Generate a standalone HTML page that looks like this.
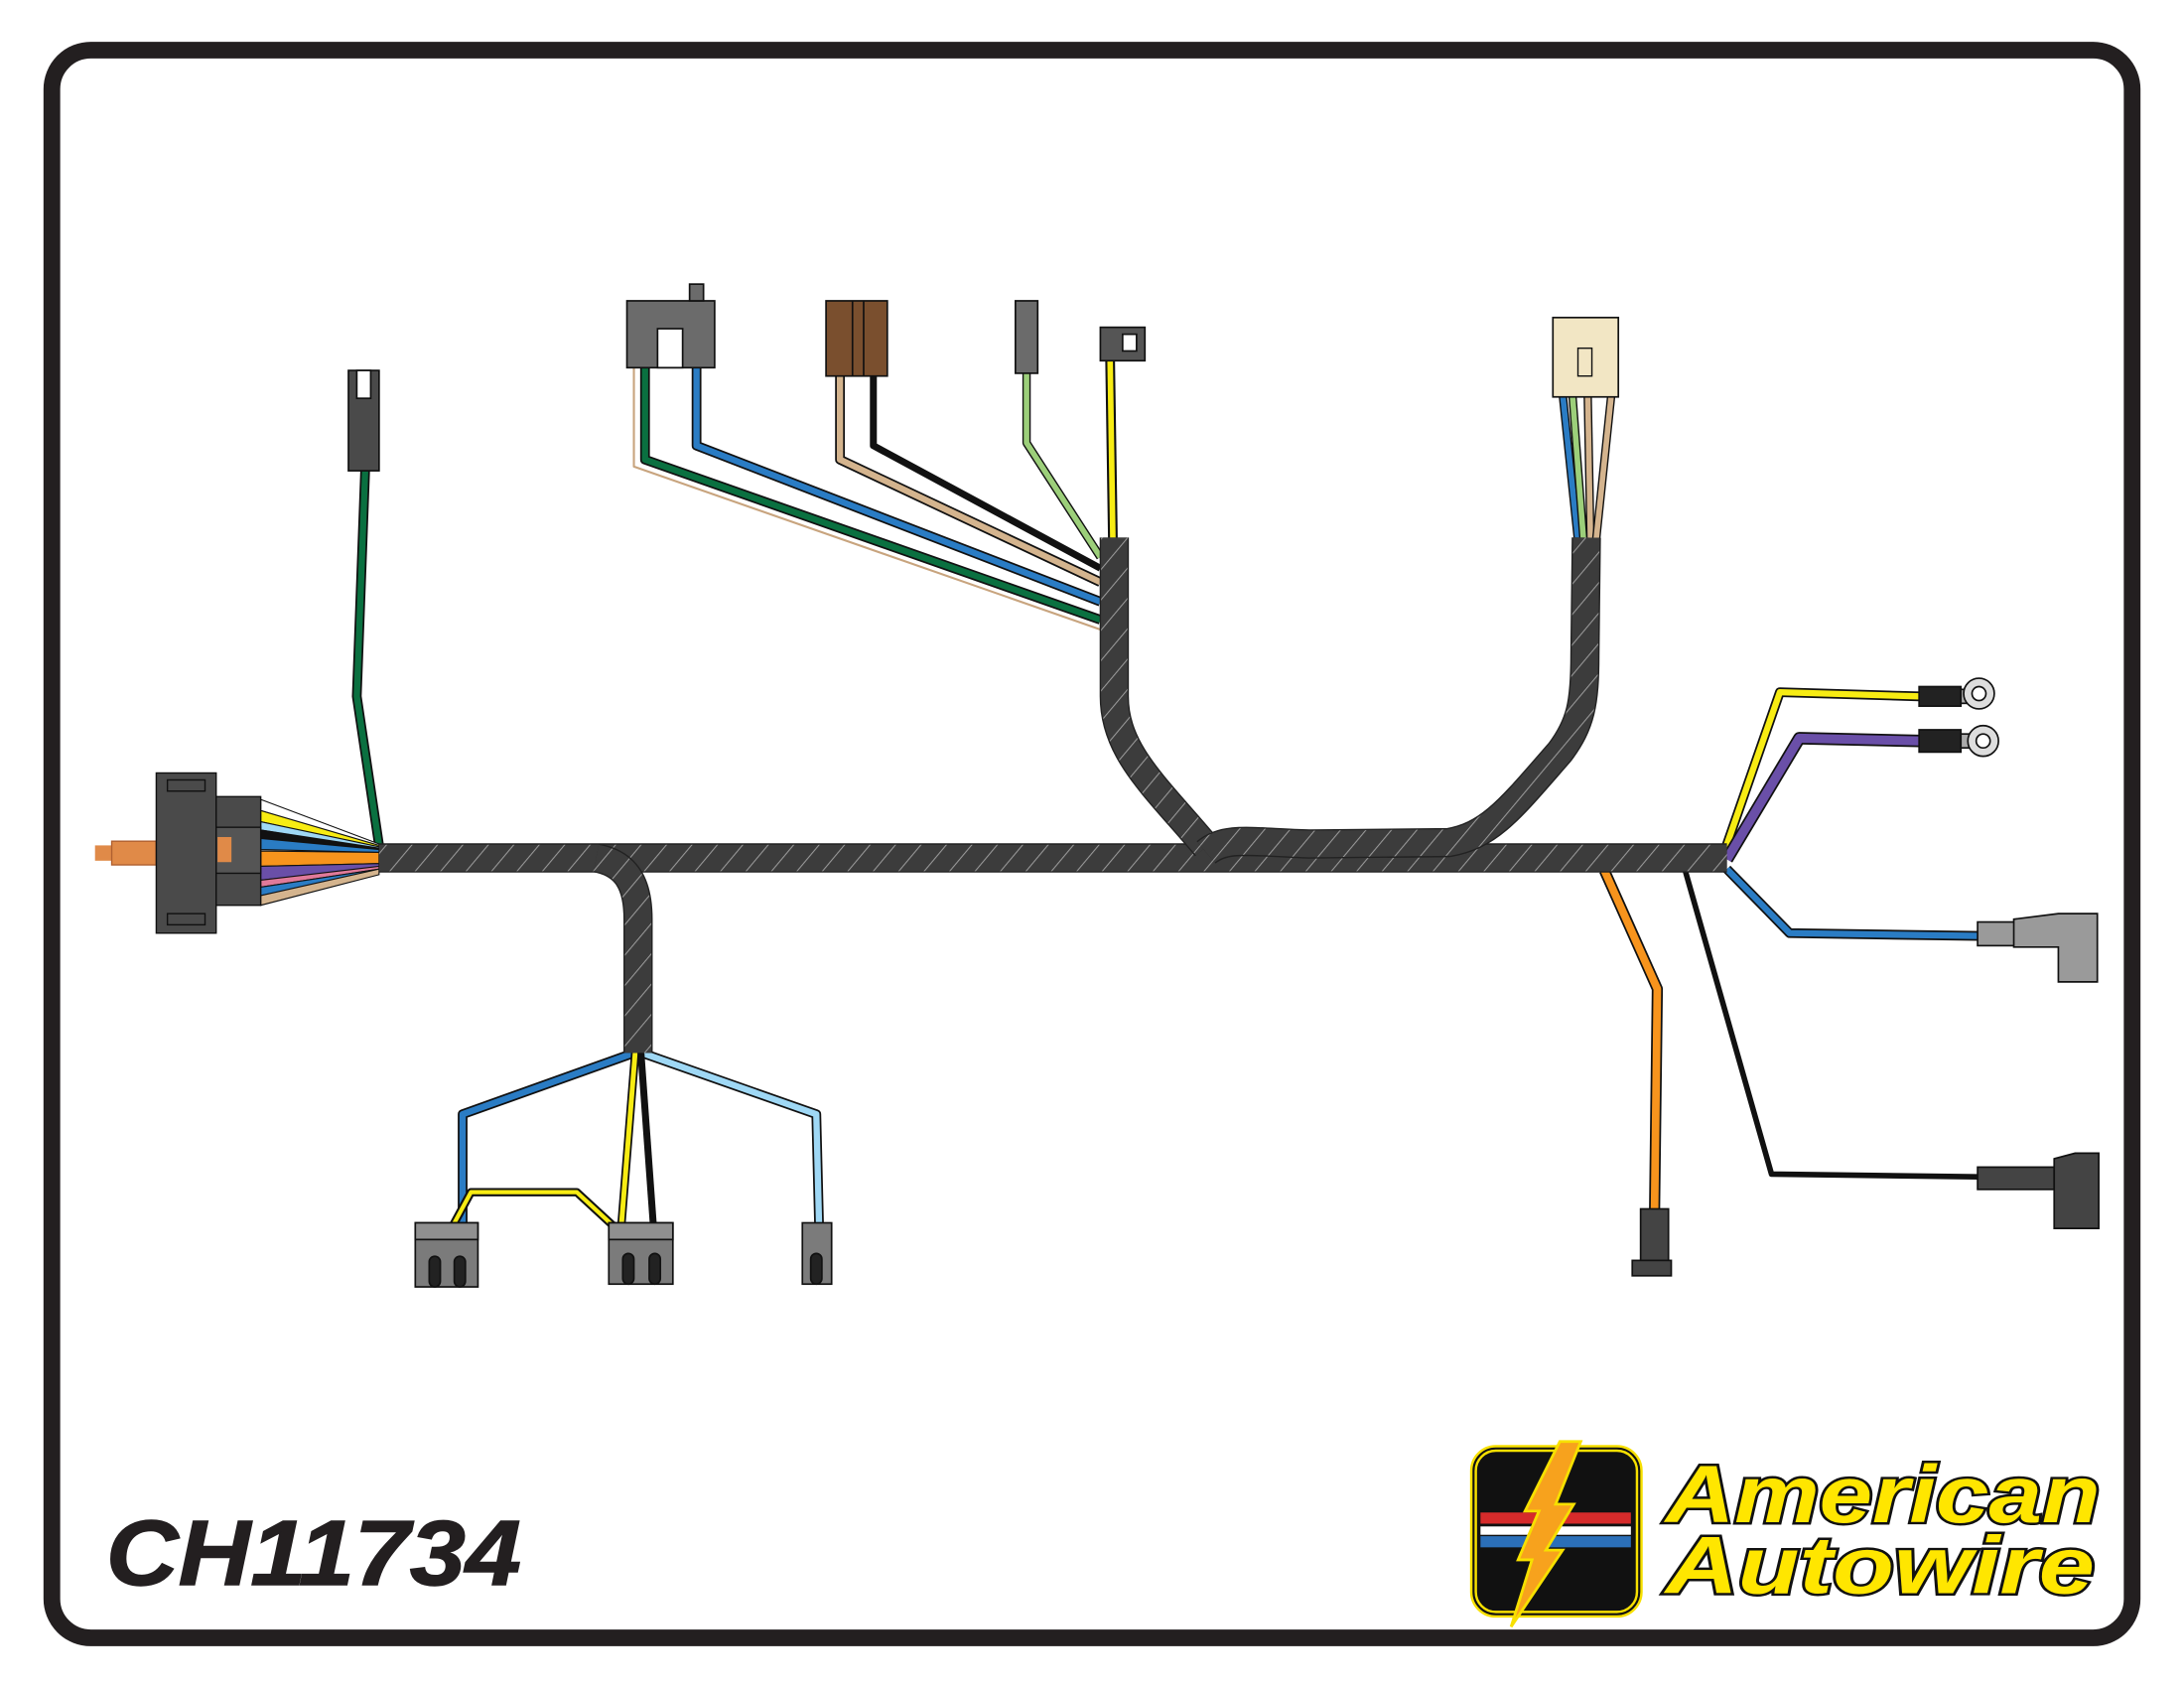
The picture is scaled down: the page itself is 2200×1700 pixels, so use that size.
<!DOCTYPE html>
<html><head><meta charset="utf-8"><style>html,body{margin:0;padding:0;background:#fff}svg{display:block}</style></head>
<body>
<svg width="2200" height="1700" viewBox="0 0 1568 1212" xmlns="http://www.w3.org/2000/svg">
<defs>
<pattern id="hatch" width="14" height="14" patternUnits="userSpaceOnUse" patternTransform="rotate(40)">
<rect width="14" height="14" fill="#3c3c3c"/><line x1="0" y1="0" x2="0" y2="14" stroke="#9a9a9a" stroke-width="1.5"/>
</pattern>
</defs>
<rect x="0" y="0" width="1568" height="1212" fill="#fff"/>
<rect x="37" y="36" width="1494" height="1140" rx="28" fill="none" stroke="#231f20" stroke-width="12"/>

<g fill="none" stroke-linejoin="round">
<polyline points="455,262 455,335 790,452" stroke="#c8a47e" stroke-width="1.5"/>
<polyline points="463,262 463,330 790,445" stroke="#111" stroke-width="7"/>
<polyline points="463,262 463,330 790,445" stroke="#0a7040" stroke-width="4.5"/>
<polyline points="500,262 500,320 790,432" stroke="#111" stroke-width="7"/>
<polyline points="500,262 500,320 790,432" stroke="#2a7cc4" stroke-width="4.5"/>
<polyline points="603,268 603,330 790,418" stroke="#111" stroke-width="7"/>
<polyline points="603,268 603,330 790,418" stroke="#d4b48e" stroke-width="4.5"/>
<polyline points="627,268 627,320 790,408" stroke="#111" stroke-width="5"/>
<polyline points="737,265 737,318 790,400" stroke="#111" stroke-width="6"/>
<polyline points="737,265 737,318 790,400" stroke="#9ccf7a" stroke-width="4"/>
<polyline points="797,258 799,388" stroke="#111" stroke-width="7"/>
<polyline points="797,258 799,388" stroke="#f7ec13" stroke-width="4"/>
<polyline points="1122,283 1133,388" stroke="#111" stroke-width="6"/><polyline points="1122,283 1133,388" stroke="#2a7cc4" stroke-width="4"/>
<polyline points="1129,283 1137,388" stroke="#111" stroke-width="6"/><polyline points="1129,283 1137,388" stroke="#9ccf7a" stroke-width="4"/>
<polyline points="1140,283 1142,388" stroke="#111" stroke-width="6"/><polyline points="1140,283 1142,388" stroke="#d4b48e" stroke-width="4"/>
<polyline points="1157,283 1146,388" stroke="#111" stroke-width="6"/><polyline points="1157,283 1146,388" stroke="#d4b48e" stroke-width="4"/>
<polyline points="262,338 256,500 272,607" stroke="#111" stroke-width="7"/>
<polyline points="262,338 256,500 272,607" stroke="#0a7040" stroke-width="4.5"/>
<polyline points="1238,612 1278,497 1378,500" stroke="#111" stroke-width="7"/>
<polyline points="1238,612 1278,497 1378,500" stroke="#f7ec13" stroke-width="4.5"/>
<polyline points="1240,617 1292,530 1378,532" stroke="#111" stroke-width="9"/>
<polyline points="1240,617 1292,530 1378,532" stroke="#6a4fa8" stroke-width="6.5"/>
<polyline points="1240,624 1285,670 1420,672" stroke="#111" stroke-width="7"/>
<polyline points="1240,624 1285,670 1420,672" stroke="#2a7cc4" stroke-width="4.5"/>
<polyline points="1152,625 1190,710 1188,870" stroke="#111" stroke-width="8"/>
<polyline points="1152,625 1190,710 1188,870" stroke="#f7941d" stroke-width="5.5"/>
<polyline points="1210,625 1272,843 1420,845" stroke="#111" stroke-width="4"/>
<polyline points="458,755 332,800 332,880" stroke="#111" stroke-width="7"/>
<polyline points="458,755 332,800 332,880" stroke="#2a7cc4" stroke-width="4.5"/>
<polyline points="458,755 586,800 588,880" stroke="#111" stroke-width="7"/>
<polyline points="458,755 586,800 588,880" stroke="#9fd8f5" stroke-width="4.5"/>
<polyline points="456,755 446,880" stroke="#111" stroke-width="6"/><polyline points="456,755 446,880" stroke="#f7ec13" stroke-width="3.5"/>
<polyline points="460,755 469,880" stroke="#111" stroke-width="5"/>
<polyline points="325,880 338,856 414,856 440,880" stroke="#111" stroke-width="6"/><polyline points="325,880 338,856 414,856 440,880" stroke="#f7ec13" stroke-width="3"/>
</g>

<g stroke="#111" stroke-width="0.8">
<polygon points="187,574 272,606 272,609 187,582" fill="#fff"/>
<polygon points="187,582 272,607 272,609 187,590" fill="#f7ec13"/>
<polygon points="187,590 272,608 272,610 187,596" fill="#9fd8f5"/>
<polygon points="187,596 272,609 272,611 187,602" fill="#111"/>
<polygon points="187,602 272,610 272,612 187,610" fill="#2a7cc4"/>
<polygon points="187,611 272,612 272,620 187,622" fill="#f7941d"/>
<polygon points="187,622 272,620 272,623 187,632" fill="#6a4fa8"/>
<polygon points="187,632 272,622 272,624 187,637" fill="#e07a9a"/>
<polygon points="187,637 272,624 272,626 187,643" fill="#2a7cc4"/>
<polygon points="187,643 272,624 272,628 187,650" fill="#d4b48e"/>
</g>

<g fill="none" stroke-linecap="butt" stroke-linejoin="round">
<path d="M272 616 L1240 616" stroke="#222" stroke-width="21"/>
<path d="M272 616 L1240 616" stroke="url(#hatch)" stroke-width="19"/>
<path d="M866 608 C830 565 800 540 800 500 L800 386" stroke="#222" stroke-width="21"/>
<path d="M866 608 C830 565 800 540 800 500 L800 386" stroke="url(#hatch)" stroke-width="19"/>
<path d="M866 612 C880 600 900 605 940 606 L1040 605 C1070 600 1085 580 1120 540 C1135 520 1138 505 1138 470 L1139 386" stroke="#222" stroke-width="21"/>
<path d="M866 612 C880 600 900 605 940 606 L1040 605 C1070 600 1085 580 1120 540 C1135 520 1138 505 1138 470 L1139 386" stroke="url(#hatch)" stroke-width="19"/>
<path d="M428 616 C450 620 458 635 458 660 L458 756" stroke="#222" stroke-width="21"/>
<path d="M428 616 C450 620 458 635 458 660 L458 756" stroke="url(#hatch)" stroke-width="19"/>
</g>

<g stroke="#111" stroke-width="1" fill="#4a4a4a">
<rect x="68" y="607" width="12" height="11" fill="#e08a48" stroke="none"/>
<rect x="80" y="604" width="32" height="17" fill="#e08a48" stroke="#b06030"/>
<rect x="112" y="555" width="43" height="115"/>
<rect x="120" y="560" width="27" height="8" fill="none"/>
<rect x="120" y="656" width="27" height="8" fill="none"/>
<rect x="155" y="572" width="32" height="78"/>
<rect x="155" y="594" width="32" height="33" fill="#555"/>
<rect x="156" y="601" width="10" height="18" fill="#e08a48" stroke="none"/>
</g>

<g stroke="#111" stroke-width="1.2">
<rect x="450" y="216" width="63" height="48" fill="#6b6b6b"/>
<rect x="472" y="236" width="18" height="28" fill="#fff"/>
<rect x="495" y="204" width="10" height="12" fill="#6b6b6b"/>
<rect x="593" y="216" width="44" height="54" fill="#7a4f2e"/>
<line x1="612" y1="216" x2="612" y2="270"/><line x1="620" y1="216" x2="620" y2="270"/>
<rect x="729" y="216" width="16" height="52" fill="#6b6b6b"/>
<rect x="790" y="235" width="32" height="24" fill="#555"/>
<rect x="806" y="240" width="10" height="12" fill="#fff"/>
<rect x="1115" y="228" width="47" height="57" fill="#f2e6c4"/>
<rect x="1133" y="250" width="10" height="20" fill="none" stroke-width="1"/>
<rect x="250" y="266" width="22" height="72" fill="#4a4a4a"/>
<rect x="256" y="266" width="10" height="20" fill="#fff"/>
</g>

<g stroke="#111" stroke-width="1.2">
<rect x="1378" y="493" width="30" height="14" fill="#222"/>
<rect x="1408" y="495" width="6" height="10" fill="#aaa"/>
<circle cx="1421" cy="498" r="11" fill="#ddd"/><circle cx="1421" cy="498" r="5" fill="#fff"/>
<rect x="1378" y="524" width="30" height="16" fill="#222"/>
<rect x="1408" y="527" width="6" height="10" fill="#aaa"/>
<circle cx="1424" cy="532" r="11" fill="#ddd"/><circle cx="1424" cy="532" r="5" fill="#fff"/>
<rect x="1420" y="662" width="30" height="17" fill="#9a9a9a"/>
<path d="M1446 660 L1478 656 L1506 656 L1506 705 L1478 705 L1478 680 L1446 680 Z" fill="#9a9a9a"/>
<rect x="1420" y="838" width="55" height="16" fill="#444"/>
<path d="M1475 832 L1490 828 L1507 828 L1507 882 L1475 882 Z" fill="#444"/>
<rect x="1178" y="868" width="20" height="38" fill="#444"/>
<rect x="1172" y="905" width="28" height="11" fill="#444"/>
</g>

<g stroke="#111" stroke-width="1.2">
<rect x="298" y="878" width="45" height="46" fill="#7b7b7b"/>
<rect x="298" y="878" width="45" height="12" fill="#909090"/>
<rect x="308" y="902" width="8" height="22" rx="4" fill="#222"/>
<rect x="326" y="902" width="8" height="22" rx="4" fill="#222"/>
<rect x="437" y="878" width="46" height="44" fill="#7b7b7b"/>
<rect x="437" y="878" width="46" height="12" fill="#909090"/>
<rect x="447" y="900" width="8" height="22" rx="4" fill="#222"/>
<rect x="466" y="900" width="8" height="22" rx="4" fill="#222"/>
<rect x="576" y="878" width="21" height="44" fill="#7b7b7b"/>
<rect x="582" y="900" width="8" height="22" rx="4" fill="#222"/>
</g>

<text x="76" y="1138" font-family="Liberation Sans, sans-serif" font-weight="bold" font-style="italic" font-size="66" fill="#231f20" stroke="#231f20" stroke-width="1" textLength="298" lengthAdjust="spacingAndGlyphs">CH11734</text>

<rect x="1058" y="1040" width="119" height="119" rx="16" fill="#111" stroke="#f7e000" stroke-width="5"/>
<rect x="1058" y="1040" width="119" height="119" rx="16" fill="none" stroke="#111" stroke-width="1.5"/>
<rect x="1063" y="1086" width="108" height="8" fill="#d62b2b"/>
<rect x="1063" y="1096" width="108" height="6" fill="#fff"/>
<rect x="1063" y="1103" width="108" height="8" fill="#2b6fb8"/>
<polygon points="1120,1035 1135,1035 1117,1080 1130,1080 1110,1113 1122,1113 1085,1168 1100,1120 1090,1120 1105,1085 1095,1085" fill="#f7a21d" stroke="#f7e000" stroke-width="2"/>
<g font-family="Liberation Sans, sans-serif" font-weight="bold" font-style="italic" fill="#ffe600" stroke="#111" stroke-width="3.5" paint-order="stroke">
<text x="1196" y="1093" font-size="58" textLength="312" lengthAdjust="spacingAndGlyphs">American</text>
<text x="1196" y="1144" font-size="58" textLength="308" lengthAdjust="spacingAndGlyphs">Autowire</text>
</g>
</svg>
</body></html>
